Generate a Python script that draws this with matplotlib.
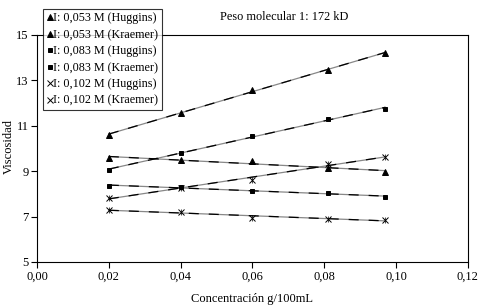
import numpy as np
import matplotlib
matplotlib.use("Agg")
import matplotlib.pyplot as plt
from matplotlib.ticker import FuncFormatter

plt.rcParams["font.family"] = ["Liberation Serif", "DejaVu Serif"]

# ── Daten ─────────────────────────────────────────────────────────────────────
konz = [0.02, 0.04, 0.06, 0.081, 0.097]

tri_huggins = [10.6, 11.56, 12.58, 13.46, 14.2]
tri_kraemer = [9.58, 9.49, 9.45, 9.14, 8.96]
sq_huggins  = [9.05, 9.8, 10.55, 11.3, 11.74]
sq_kraemer  = [8.35, 8.3, 8.13, 8.04, 7.86]
x_huggins   = [7.82, 8.26, 8.61, 9.32, 9.63]
x_kraemer   = [7.29, 7.2, 6.94, 6.9, 6.85]

labels = ["I: 0,053 M (Huggins)", "I: 0,053 M (Kraemer)",
          "I: 0,083 M (Huggins)", "I: 0,083 M (Kraemer)",
          "I: 0,102 M (Huggins)", "I: 0,102 M (Kraemer)"]

serien = [tri_huggins, tri_kraemer, sq_huggins, sq_kraemer, x_huggins, x_kraemer]
marker = ["^", "^", "s", "s", "x", "x"]
msize  = [4.5, 4.5, 3.5, 3.5, 4, 5]

fig = plt.figure(figsize=(4.94, 3.06), dpi=100)
ax = fig.add_axes([0.075, 0.144, 0.872, 0.742])

x = np.array(konz)
for werte, m, ms, lab in zip(serien, marker, msize, labels):
    # Trendlinie (lineare Regression), grau/schwarz gestrichelt
    k, d = np.polyfit(x, werte, 1)
    xx = np.array([x[0], x[-1]])
    ax.plot(xx, k * xx + d, color="#888888", lw=0.9, zorder=1)
    ax.plot(xx, k * xx + d, color="black", lw=0.9, dashes=(8, 8), zorder=2)
    ax.plot(x, werte, ls="none", marker=m, ms=ms, color="black",
            mew=0.7, label=lab, zorder=3)
    if m == "x":
        ax.plot(x, werte, ls="none", marker="|", ms=ms, color="black",
                mew=0.5, zorder=3)

ax.set_xlim(0, 0.12)
ax.set_ylim(5, 15)
ax.set_xticks(np.arange(0, 0.121, 0.02))
ax.set_yticks([5, 7, 9, 11, 13, 15])
ax.xaxis.set_major_formatter(FuncFormatter(lambda v, p: f"{v:.2f}".replace(".", ",")))
ax.tick_params(direction="out", length=4, width=0.8, labelsize=9, pad=2)
for s in ax.spines.values():
    s.set_linewidth(0.8)

ax.set_xlabel("Concentración g/100mL", fontsize=9, labelpad=8)
ax.set_ylabel("Viscosidad", fontsize=9)
ax.yaxis.set_label_coords(-0.052, 0.51)

fig.text(0.575, 0.944, "Peso molecular 1: 172 kD", fontsize=8.8, ha="center", va="center")

leg = ax.legend(loc="upper left", bbox_to_anchor=(0.014, 1.115), fontsize=8.7,
                frameon=True, fancybox=False, edgecolor="black",
                handlelength=0.5, handletextpad=0.05, borderpad=0.3,
                labelspacing=0.37, borderaxespad=0)
leg.get_frame().set_linewidth(0.8)

fig.savefig("out.png", dpi=100)
